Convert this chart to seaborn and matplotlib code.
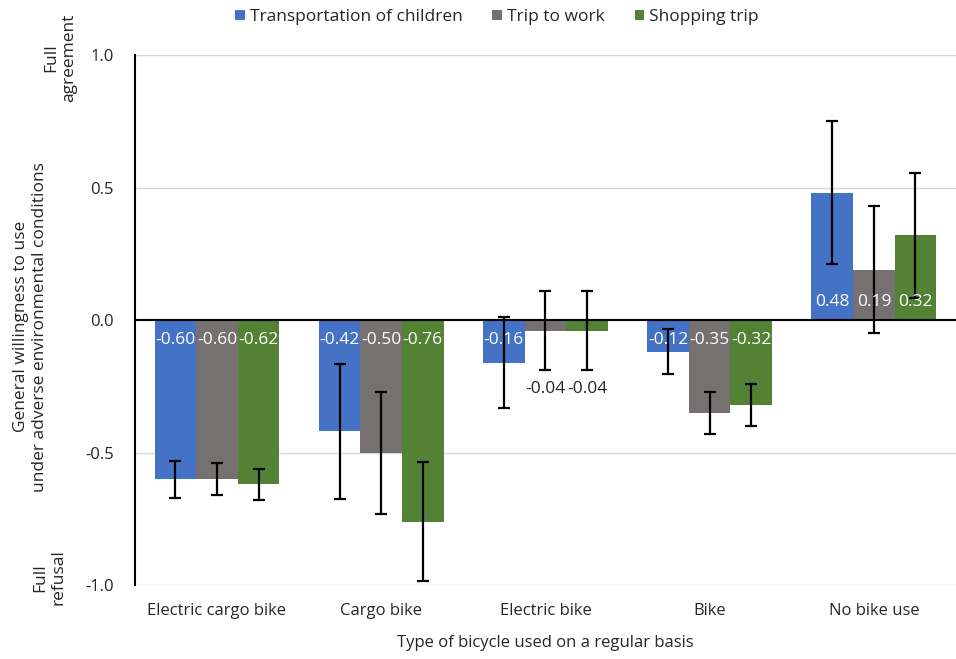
import matplotlib
matplotlib.use("Agg")
import matplotlib.pyplot as plt
import matplotlib.transforms as mtransforms
from matplotlib.patches import Patch
import pandas as pd
import seaborn as sns

categories = ["Electric cargo bike", "Cargo bike", "Electric bike", "Bike", "No bike use"]
series = ["Transportation of children", "Trip to work", "Shopping trip"]
children = [-0.60, -0.42, -0.16, -0.12, 0.48]
work = [-0.60, -0.50, -0.04, -0.35, 0.19]
shopping = [-0.62, -0.76, -0.04, -0.32, 0.32]
err_children = [0.07, 0.255, 0.17, 0.085, 0.27]
err_work = [0.06, 0.23, 0.15, 0.08, 0.24]
err_shopping = [0.06, 0.225, 0.15, 0.08, 0.235]
colors = ["#4472C4", "#767171", "#548235"]

rows = []
for s, vals, errs in zip(series, [children, work, shopping], [err_children, err_work, err_shopping]):
    for c, v, e in zip(categories, vals, errs):
        rows.append([c, s, v, e])
df = pd.DataFrame(rows, columns=["bike", "purpose", "value", "err"])

sns.set_style("white")
plt.rcParams["font.family"] = ["Open Sans", "DejaVu Sans"]
txt = "#262626"

fig = plt.figure(figsize=(9.56, 6.59), dpi=100)
ax = fig.add_axes([0.141, 0.112, 0.859, 0.8045])

sns.barplot(data=df, x="bike", y="value", hue="purpose", order=categories,
            hue_order=series, palette=colors, width=0.76, gap=0, linewidth=0,
            edgecolor="none", errorbar=None, saturation=1, legend=False, ax=ax)

# error bars and value labels, bar by bar
for i, s in enumerate(series):
    sub = df[df["purpose"] == s].set_index("bike").loc[categories]
    for j, c in enumerate(categories):
        p = ax.patches[i * len(categories) + j]
        xc = p.get_x() + p.get_width() / 2
        v = sub.loc[c, "value"]
        e = sub.loc[c, "err"]
        ax.errorbar(xc, v, yerr=e, fmt="none", ecolor="black", elinewidth=1.6,
                    capsize=4, capthick=1.6, zorder=4)
        if abs(v) < 0.1:
            ax.text(xc, v - e - 0.07, f"{v:.2f}", ha="center", va="center",
                    color=txt, fontsize=12.5)
        else:
            ax.text(xc, 0.068 if v > 0 else -0.075, f"{v:.2f}", ha="center",
                    va="center", color="white", fontsize=12.5, zorder=5)

ax.set_ylim(-1.0, 1.0)
ax.set_xlim(-0.5, 4.5)
ax.set_yticks([-1.0, -0.5, 0.0, 0.5, 1.0])
ax.set_yticklabels(["-1.0", "-0.5", "0.0", "0.5", "1.0"])
for yv in [-1.0, -0.5, 0.5, 1.0]:
    ax.axhline(yv, color="#d9d9d9", lw=1, zorder=0)
ax.axhline(0, color="black", lw=1.5, zorder=3)
for sp in ["top", "right", "bottom"]:
    ax.spines[sp].set_visible(False)
ax.spines["left"].set_color("black")
ax.spines["left"].set_linewidth(1.5)
ax.tick_params(axis="both", length=0, labelsize=12, colors=txt)
ax.tick_params(axis="y", pad=15)
ax.tick_params(axis="x", pad=13)

ax.set_xlabel("Type of bicycle used on a regular basis", fontsize=12, color=txt, labelpad=11)
ax.set_ylabel("")
fig.text(0.032, 0.504, "General willingness to use\nunder adverse environmental conditions",
         rotation=90, ha="center", va="center", fontsize=12.5, color=txt,
         multialignment="center", linespacing=1.3)

trans = mtransforms.blended_transform_factory(fig.transFigure, ax.transData)
ax.text(0.063, 0.99, "Full\nagreement", transform=trans, rotation=90, ha="center",
        va="center", fontsize=12.5, color=txt, multialignment="center")
ax.text(0.052, -0.97, "Full\nrefusal", transform=trans, rotation=90, ha="center",
        va="center", fontsize=12.5, color=txt, multialignment="center")

handles = [Patch(facecolor=col, edgecolor="none") for col in colors]
fig.legend(handles, series, loc="upper center", bbox_to_anchor=(0.52, 1.01), ncol=3,
           frameon=False, fontsize=12.5, handlelength=0.55, handleheight=0.55,
           handletextpad=0.3, columnspacing=1.7, labelcolor=txt)

fig.savefig("out.png", dpi=100)
